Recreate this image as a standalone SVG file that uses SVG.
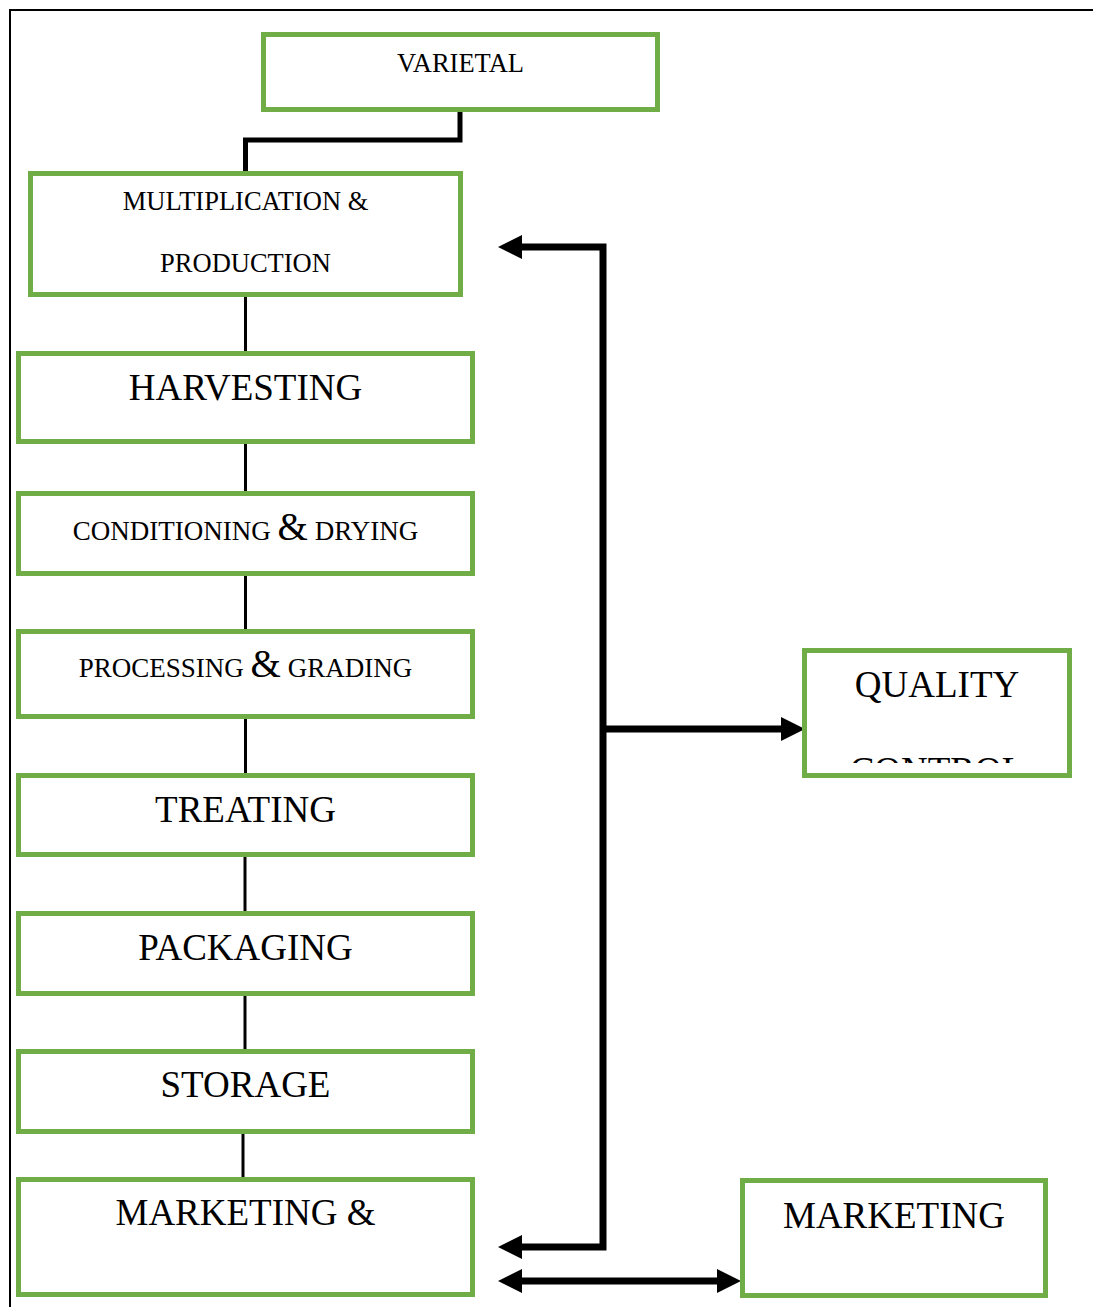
<svg xmlns="http://www.w3.org/2000/svg" width="1093" height="1307" viewBox="0 0 1093 1307">
<style>
.box{fill:#fff;stroke:#70AD47;stroke-width:5}
.t{font-family:"Liberation Serif","Times New Roman",serif;fill:#000;text-anchor:middle}
.s26{font-size:26.5px}
.s27{font-size:27px}
.s37{font-size:37px}
.amp{font-size:39px}
.link{stroke:#000;stroke-width:3;fill:none}
.arr{stroke:#000;stroke-width:7;fill:none}
</style>
<defs>
<marker id="ah" markerUnits="userSpaceOnUse" markerWidth="26" markerHeight="26" refX="1" refY="12" orient="auto-start-reverse" viewBox="0 0 26 24">
<path d="M0,0 L24,12 L0,24 z" fill="#000"/>
</marker>
<clipPath id="qcclip"><rect x="807" y="653" width="260" height="110"/></clipPath>
</defs>
<rect width="1093" height="1307" fill="#fff"/>
<g id="frame">
<line x1="9" y1="10" x2="1093" y2="10" stroke="#000" stroke-width="2"/>
<line x1="10" y1="9" x2="10" y2="1307" stroke="#000" stroke-width="2"/>
</g>
<g id="connectors">
<path class="arr" style="stroke-width:5" d="M460,112 V140 H245.5 V171"/>
<line class="link" x1="245.5" y1="297" x2="245.5" y2="351"/>
<line class="link" x1="245.5" y1="444" x2="245.5" y2="491"/>
<line class="link" x1="245.5" y1="576" x2="245.5" y2="629"/>
<line class="link" x1="245.5" y1="719" x2="245.5" y2="773"/>
<line class="link" x1="245" y1="857" x2="245" y2="911"/>
<line class="link" x1="245" y1="996" x2="245" y2="1049"/>
<line class="link" x1="243" y1="1134" x2="243" y2="1177"/>
<path class="arr" d="M521,247 H603 V1247 H521" stroke-linejoin="miter" marker-start="url(#ah)" marker-end="url(#ah)"/>
<path class="arr" d="M603,729 H782" marker-end="url(#ah)"/>
<path class="arr" d="M521,1281 H718" marker-start="url(#ah)" marker-end="url(#ah)"/>
</g>
<g id="varietal">
<rect class="box" x="263.5" y="34.5" width="394" height="75"/>
<text class="t s26" x="460.5" y="72">VARIETAL</text>
</g>
<g id="multiplication">
<rect class="box" x="30.5" y="173.5" width="430" height="121"/>
<text class="t s26" x="245.5" y="210">MULTIPLICATION &amp;</text>
<text class="t s26" x="245.5" y="272">PRODUCTION</text>
</g>
<g id="harvesting">
<rect class="box" x="18.5" y="353.5" width="454" height="88"/>
<text class="t s37" x="245.5" y="400">HARVESTING</text>
</g>
<g id="conditioning">
<rect class="box" x="18.5" y="493.5" width="454" height="80"/>
<text class="t s27" x="245.5" y="540">CONDITIONING <tspan class="amp">&amp;</tspan> DRYING</text>
</g>
<g id="processing">
<rect class="box" x="18.5" y="631.5" width="454" height="85"/>
<text class="t s27" x="245.5" y="677">PROCESSING <tspan class="amp">&amp;</tspan> GRADING</text>
</g>
<g id="treating">
<rect class="box" x="18.5" y="775.5" width="454" height="79"/>
<text class="t s37" x="245.5" y="822">TREATING</text>
</g>
<g id="packaging">
<rect class="box" x="18.5" y="913.5" width="454" height="80"/>
<text class="t s37" x="245.5" y="960">PACKAGING</text>
</g>
<g id="storage">
<rect class="box" x="18.5" y="1051.5" width="454" height="80"/>
<text class="t s37" x="245.5" y="1097">STORAGE</text>
</g>
<g id="marketing-and">
<rect class="box" x="18.5" y="1179.5" width="454" height="115"/>
<text class="t s37" x="245.5" y="1225">MARKETING &amp;</text>
</g>
<g id="quality-control">
<rect class="box" x="804.5" y="650.5" width="265" height="125"/>
<g clip-path="url(#qcclip)">
<text class="t s37" x="937" y="697">QUALITY</text>
<text class="t s37" x="937" y="783">CONTROL</text>
</g>
</g>
<g id="marketing">
<rect class="box" x="742.5" y="1180.5" width="303" height="115"/>
<text class="t s37" x="894" y="1228">MARKETING</text>
</g>
</svg>
